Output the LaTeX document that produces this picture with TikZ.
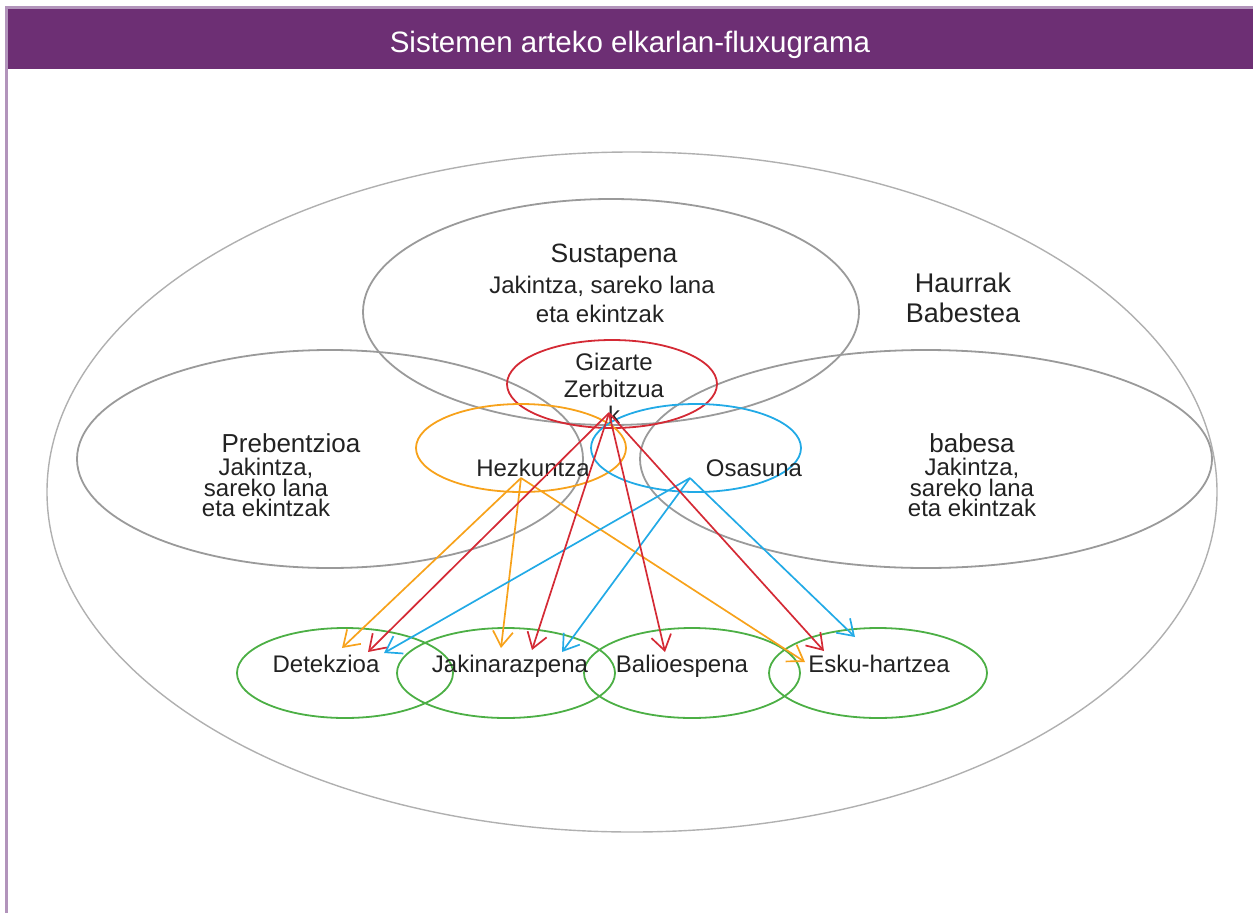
\documentclass[tikz,border=0pt]{standalone}
\usepackage{fontspec}
\setmainfont{Liberation Sans}
\usetikzlibrary{shapes.geometric,arrows.meta}
\definecolor{band}{HTML}{6D2F74}
\definecolor{bandedge}{HTML}{B294BB}
\definecolor{ringgray}{HTML}{9A9A9A}
\definecolor{outergray}{HTML}{B0B0B0}
\definecolor{gzred}{HTML}{D42A35}
\definecolor{hzorange}{HTML}{F7A21B}
\definecolor{osblue}{HTML}{22AAE6}
\definecolor{grn}{HTML}{4CAF45}
\definecolor{txt}{HTML}{222222}
\tikzset{
  ring/.style={draw=#1, line width=1.8pt, ellipse, inner sep=0pt, fill=none},
  lbl/.style={text=txt, inner sep=0pt, anchor=base, font=\fontsize{24}{26}\selectfont},
  biglbl/.style={lbl, font=\fontsize{26}{28}\selectfont},
  stack/.style={text=txt, inner sep=0pt, anchor=north, align=center, font=\fontsize{24}{20.5}\selectfont},
  flow/.style={draw=#1, line width=1.7pt, -{Straight Barb[length=15pt,width=20pt,line width=1.7pt]}},
}
\begin{document}
\begin{tikzpicture}[x=1pt,y=-1pt]
\useasboundingbox (0,0) rectangle (1253,913);
% frame
\fill[bandedge] (5,6) rectangle (1253,9);
\fill[bandedge] (5,6) rectangle (8,913);
\fill[band] (8,9) rectangle (1253,69);
\node[text=white, inner sep=0pt, anchor=base, font=\fontsize{29.5}{32}\selectfont] (title) at (630,52) {Sistemen arteko elkarlan-fluxugrama};
% ellipses
\node[ring=outergray, line width=1.4pt, minimum width=1170pt, minimum height=680pt] (outer) at (632,492) {};
\node[ring=ringgray, minimum width=496pt, minimum height=226pt] (sus) at (611,312) {};
\node[ring=ringgray, minimum width=506pt, minimum height=218pt] (preb) at (330,459) {};
\node[ring=ringgray, minimum width=572pt, minimum height=218pt] (bab) at (926,459) {};
\node[ring=gzred, minimum width=210pt, minimum height=88pt] (gz) at (612,384) {};
\node[ring=hzorange, minimum width=210pt, minimum height=88pt] (hz) at (521,448) {};
\node[ring=osblue, minimum width=210pt, minimum height=88pt] (os) at (696,448) {};
\node[ring=grn, minimum width=216pt, minimum height=90pt] (det) at (345,673) {};
\node[ring=grn, minimum width=218pt, minimum height=90pt] (jak) at (506,673) {};
\node[ring=grn, minimum width=216pt, minimum height=90pt] (bal) at (692,673) {};
\node[ring=grn, minimum width=218pt, minimum height=90pt] (esk) at (878,673) {};
% labels
\node[biglbl, font=\fontsize{26.5}{28}\selectfont] (t-sus1) at (614,262) {Sustapena};
\node[lbl] (t-sus2) at (602,293) {Jakintza, sareko lana};
\node[lbl] (t-sus3) at (600,322) {eta ekintzak};
\node[biglbl, font=\fontsize{27}{28}\selectfont] (t-h1) at (963,292) {Haurrak};
\node[biglbl, font=\fontsize{27}{28}\selectfont] (t-h2) at (963,322) {Babestea};
\node[biglbl] (t-p1) at (291,452) {Prebentzioa};
\node[stack] (t-p2) at (266,458) {Jakintza,\\sareko lana\\eta ekintzak};
\node[biglbl] (t-b1) at (972,452) {babesa};
\node[stack] (t-b2) at (972,458) {Jakintza,\\sareko lana\\eta ekintzak};
\node[lbl] (t-g1) at (614,370) {Gizarte};
\node[lbl] (t-g2) at (614,397) {Zerbitzua};
\node[lbl] (t-g3) at (614,423) {k};
\node[lbl] (t-hz) at (533,476) {Hezkuntza};
\node[lbl] (t-os) at (754,476) {Osasuna};
\node[lbl] (t-det) at (326,672) {Detekzioa};
\node[lbl] (t-jak) at (510,672) {Jakinarazpena};
\node[lbl] (t-bal) at (682,672) {Balioespena};
\node[lbl] (t-esk) at (879,672) {Esku-hartzea};
% arrow anchor points
\coordinate (gz-src) at (609,413);
\coordinate (hz-src) at (521,478);
\coordinate (os-src) at (690,478);
\coordinate (det-r) at (368,652);
\coordinate (det-o) at (342,648);
\coordinate (det-b) at (384,653);
\coordinate (jak-r) at (532,650);
\coordinate (jak-o) at (501,648);
\coordinate (jak-b) at (562,652);
\coordinate (bal-r) at (665,652);
\coordinate (esk-r) at (824,651);
\coordinate (esk-o) at (805,662);
\coordinate (esk-b) at (855,637);
% arrows
\draw[flow=hzorange] (hz-src) -- (det-o);
\draw[flow=hzorange] (hz-src) -- (jak-o);
\draw[flow=hzorange] (hz-src) -- (esk-o);
\draw[flow=osblue] (os-src) -- (det-b);
\draw[flow=osblue] (os-src) -- (jak-b);
\draw[flow=osblue] (os-src) -- (esk-b);
\draw[flow=gzred] (gz-src) -- (det-r);
\draw[flow=gzred] (gz-src) -- (jak-r);
\draw[flow=gzred] (gz-src) -- (bal-r);
\draw[flow=gzred] (gz-src) -- (esk-r);
\end{tikzpicture}
\end{document}
